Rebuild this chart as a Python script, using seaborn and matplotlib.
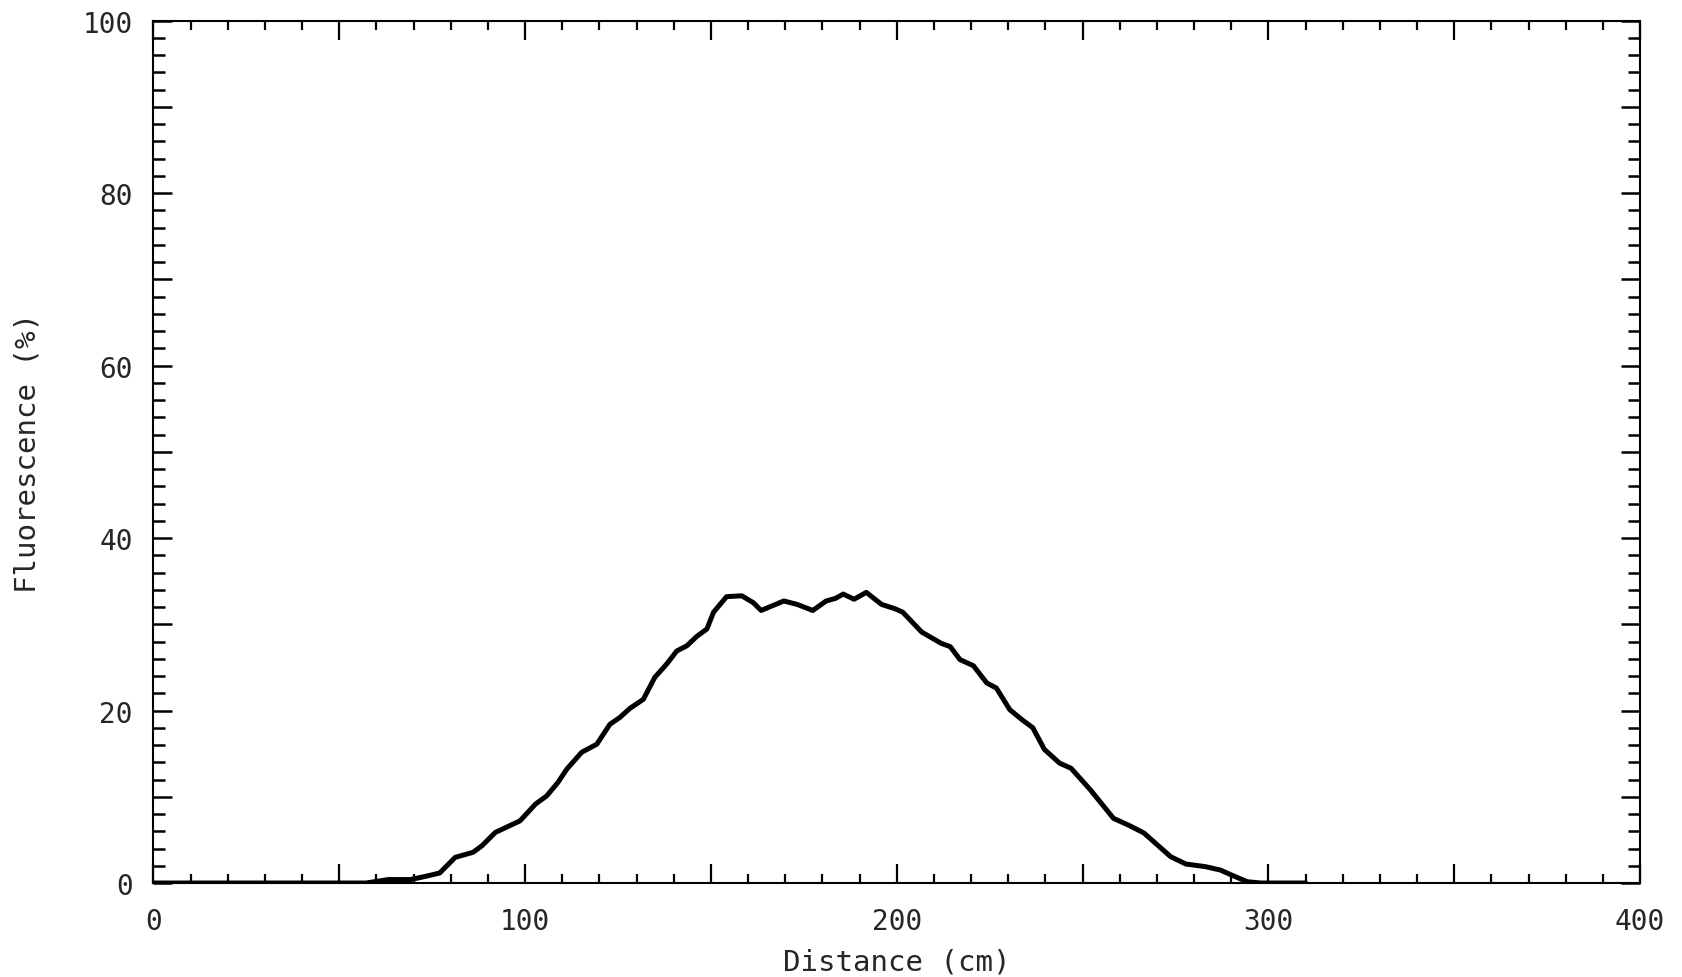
import numpy as np
import pandas as pd
import matplotlib
matplotlib.use("Agg")
import matplotlib.pyplot as plt
import seaborn as sns
from matplotlib.ticker import MultipleLocator

# ---- data ----
distance_cm = [0, 20, 40, 57.2, 63.2, 69.2, 74.0, 77.0, 81.2, 86.0, 88.4, 92.0,
               98.6, 102.8, 105.8, 108.9, 111.2, 115.2, 119.3, 122.8, 125.5, 128.2,
               131.8, 134.9, 138.1, 140.8, 143.5, 146.2, 148.9, 150.7, 154.2, 158.3,
               161.4, 163.5, 169.6, 173.2, 177.4, 181.0, 183.5, 185.6, 188.5, 191.8,
               195.9, 199.5, 201.6, 206.7, 211.9, 214.4, 217.0, 220.6, 224.2, 226.8,
               230.4, 233.5, 236.6, 239.7, 243.8, 246.9, 252.1, 258.3, 262.4, 266.5,
               273.7, 277.8, 283.0, 287.1, 290.2, 294.3, 298.0, 305.0, 310.0]
fluorescence_pct = [0.0, 0.0, 0.0, 0.0, 0.4, 0.4, 0.85, 1.16, 2.98, 3.56, 4.33, 5.87,
                    7.2, 9.16, 10.1, 11.7, 13.2, 15.15, 16.1, 18.4, 19.2, 20.25,
                    21.3, 23.85, 25.4, 26.9, 27.5, 28.6, 29.45, 31.4, 33.2, 33.3,
                    32.5, 31.6, 32.7, 32.3, 31.6, 32.7, 33.0, 33.5, 32.9, 33.7,
                    32.3, 31.8, 31.4, 29.1, 27.8, 27.4, 25.9, 25.2, 23.2, 22.6,
                    20.1, 19.0, 18.0, 15.5, 13.9, 13.3, 10.8, 7.5, 6.7, 5.8,
                    3.05, 2.2, 1.9, 1.5, 0.9, 0.15, 0.0, 0.0, 0.0]
x_ticklabels = [0, 100, 200, 300, 400]
y_ticklabels = [0, 20, 40, 60, 80, 100]
x_label = "Distance (cm)"
y_label = "Fluorescence (%)"

df = pd.DataFrame({"Distance": distance_cm, "Fluorescence": fluorescence_pct})

sns.set_style("ticks")
plt.rcParams["font.family"] = ["DejaVu Sans Mono", "DejaVu Sans"]

fig = plt.figure(figsize=(16.83, 9.78), dpi=100)
ax = fig.add_axes([0.0912, 0.0961, 0.9745 - 0.0912, 0.978 - 0.0961])

sns.lineplot(data=df, x="Distance", y="Fluorescence", ax=ax, color="black",
             linewidth=3.6, sort=False)

ax.set_xlim(0, 400)
ax.set_ylim(0, 100)

ax.set_xticks([50 * i for i in range(9)])
ax.set_xticklabels([str(v) if v in x_ticklabels else "" for v in range(0, 401, 50)])
ax.xaxis.set_minor_locator(MultipleLocator(10))
ax.set_yticks([10 * i for i in range(11)])
ax.set_yticklabels([str(v) if v in y_ticklabels else "" for v in range(0, 101, 10)])
ax.yaxis.set_minor_locator(MultipleLocator(2))

ax.tick_params(axis="x", which="major", direction="in", length=13.5, width=1.6,
               top=True, bottom=True, pad=17, labelsize=20, color="black")
ax.tick_params(axis="x", which="minor", direction="in", length=6.5, width=1.6,
               top=True, bottom=True, color="black")
ax.tick_params(axis="y", which="major", direction="in", length=14, width=1.8,
               left=True, right=True, pad=15, labelsize=20, color="black")
ax.tick_params(axis="y", which="minor", direction="in", length=8.5, width=1.8,
               left=True, right=True, color="black")

for s in ax.spines.values():
    s.set_visible(True)
    s.set_linewidth(1.5)
    s.set_color("black")

ax.set_xlabel(x_label, fontsize=21)
ax.set_ylabel(y_label, fontsize=21)
ax.xaxis.set_label_coords(0.5, -0.075)
ax.yaxis.set_label_coords(-0.075, 0.5)

fig.savefig("out.png", dpi=100, facecolor="white")
